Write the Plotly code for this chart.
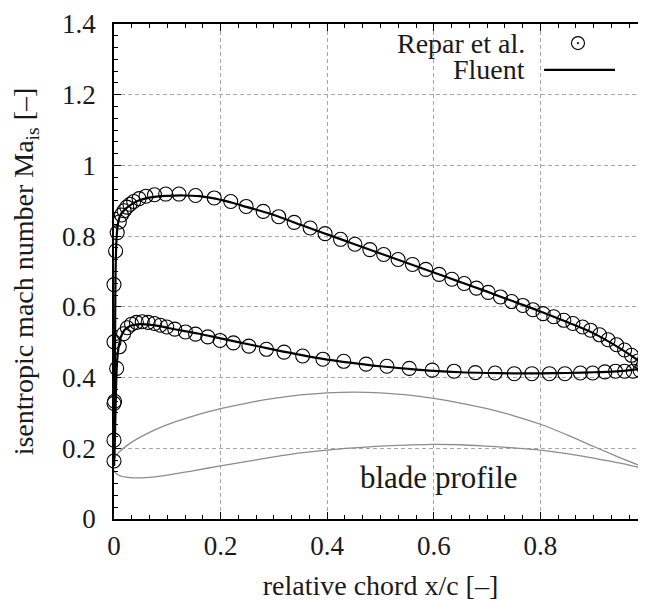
import plotly.graph_objects as go

# Repar et al. (experimental) - suction side
repar_ss_x = [0.0, 0.003, 0.006, 0.01, 0.014, 0.019, 0.024, 0.03, 0.037, 0.047, 0.06, 0.076, 0.097, 0.122,
              0.153, 0.188, 0.219, 0.248, 0.28, 0.309, 0.338, 0.368, 0.396, 0.425, 0.452, 0.48, 0.506, 0.533,
              0.56, 0.585, 0.61, 0.634, 0.657, 0.68, 0.702, 0.725, 0.746, 0.767, 0.786, 0.805, 0.825, 0.844,
              0.861, 0.879, 0.894, 0.911, 0.927, 0.943, 0.958, 0.971, 0.983, 0.992]
repar_ss_y = [0.663, 0.758, 0.81, 0.84, 0.86, 0.872, 0.882, 0.89, 0.898, 0.906, 0.913, 0.917, 0.919, 0.919,
              0.915, 0.908, 0.898, 0.884, 0.870, 0.855, 0.839, 0.823, 0.807, 0.791, 0.777, 0.762, 0.748, 0.734,
              0.720, 0.706, 0.692, 0.678, 0.666, 0.653, 0.641, 0.628, 0.615, 0.604, 0.592, 0.581, 0.572, 0.562,
              0.553, 0.543, 0.534, 0.521, 0.507, 0.493, 0.478, 0.463, 0.447, 0.432]

# Repar et al. - pressure side
repar_ps_x = [0.0, 0.0, 0.0, 0.001, 0.005, 0.0, 0.01, 0.018, 0.025, 0.033, 0.042, 0.053, 0.064, 0.076, 0.087,
              0.099, 0.114, 0.134, 0.153, 0.176, 0.199, 0.224, 0.253, 0.286, 0.319, 0.354, 0.392, 0.431, 0.473,
              0.512, 0.554, 0.597, 0.638, 0.678, 0.715, 0.751, 0.784, 0.817, 0.846, 0.875, 0.898, 0.921, 0.941,
              0.958, 0.974, 0.987]
repar_ps_y = [0.164, 0.223, 0.327, 0.333, 0.426, 0.501, 0.487, 0.524, 0.541, 0.551, 0.556, 0.558, 0.556, 0.553,
              0.548, 0.543, 0.537, 0.529, 0.523, 0.515, 0.505, 0.498, 0.489, 0.480, 0.472, 0.461, 0.452, 0.446,
              0.438, 0.432, 0.426, 0.421, 0.418, 0.414, 0.413, 0.411, 0.411, 0.411, 0.411, 0.413, 0.413, 0.416,
              0.418, 0.418, 0.418, 0.42]

# Fluent simulation - suction side
fluent_ss_x = [0.0, 0.001, 0.002, 0.003, 0.005, 0.008, 0.012, 0.02, 0.03, 0.045, 0.06, 0.08, 0.1, 0.13, 0.16,
               0.19, 0.22, 0.25, 0.3, 0.35, 0.4, 0.45, 0.5, 0.55, 0.6, 0.65, 0.7, 0.75, 0.8, 0.85, 0.9, 0.95,
               0.98, 1.0]
fluent_ss_y = [0.15, 0.3, 0.5, 0.7, 0.8, 0.84, 0.86, 0.875, 0.887, 0.9, 0.907, 0.912, 0.914, 0.915, 0.913,
               0.906, 0.895, 0.882, 0.86, 0.832, 0.805, 0.778, 0.751, 0.724, 0.697, 0.67, 0.643, 0.615, 0.587,
               0.557, 0.525, 0.482, 0.452, 0.428]

# Fluent simulation - pressure side
fluent_ps_x = [0.0, 0.002, 0.004, 0.006, 0.009, 0.013, 0.02, 0.03, 0.04, 0.05, 0.065, 0.08, 0.1, 0.13, 0.16,
               0.2, 0.25, 0.3, 0.35, 0.4, 0.45, 0.5, 0.55, 0.6, 0.65, 0.7, 0.75, 0.8, 0.85, 0.9, 0.95, 1.0]
fluent_ps_y = [0.15, 0.25, 0.38, 0.45, 0.49, 0.515, 0.535, 0.546, 0.55, 0.551, 0.55, 0.547, 0.541, 0.532,
               0.524, 0.511, 0.495, 0.479, 0.464, 0.451, 0.441, 0.432, 0.425, 0.419, 0.415, 0.413, 0.412,
               0.412, 0.413, 0.415, 0.418, 0.428]

# Blade profile (scaled geometry): upper surface and lower surface, leading edge -> trailing edge
profile_upper_x = [0.0, 0.01, 0.03, 0.06, 0.1, 0.15, 0.2, 0.25, 0.3, 0.35, 0.4, 0.45, 0.5, 0.55, 0.6, 0.65,
                   0.7, 0.75, 0.8, 0.85, 0.9, 0.95, 1.0]
profile_upper_y = [0.17, 0.19, 0.214, 0.24, 0.267, 0.292, 0.312, 0.328, 0.341, 0.351, 0.357, 0.359, 0.357,
                   0.351, 0.341, 0.328, 0.312, 0.292, 0.268, 0.238, 0.205, 0.173, 0.1415]
profile_lower_x = [0.0, 0.01, 0.03, 0.06, 0.1, 0.15, 0.2, 0.25, 0.3, 0.35, 0.4, 0.45, 0.5, 0.55, 0.6, 0.65,
                   0.7, 0.75, 0.8, 0.85, 0.9, 0.95, 1.0]
profile_lower_y = [0.136, 0.123, 0.117, 0.117, 0.124, 0.137, 0.15, 0.163, 0.176, 0.187, 0.195, 0.201, 0.206,
                   0.209, 0.211, 0.21, 0.206, 0.201, 0.195, 0.185, 0.172, 0.158, 0.1415]

x_ticks = [0, 0.2, 0.4, 0.6, 0.8, 1]
x_ticklabels = ["0", "0.2", "0.4", "0.6", "0.8", "1"]
y_ticks = [0, 0.2, 0.4, 0.6, 0.8, 1.0, 1.2, 1.4]
y_ticklabels = ["0", "0.2", "0.4", "0.6", "0.8", "1", "1.2", "1.4"]

FONT = "Liberation Serif"
TXT = "#1a1a1a"
FS = 28

fig = go.Figure()

# closed blade outline: upper surface TE->LE, then lower surface LE->TE
outline_x = profile_upper_x[::-1] + profile_lower_x
outline_y = profile_upper_y[::-1] + profile_lower_y
fig.add_trace(go.Scatter(x=outline_x, y=outline_y, mode="lines", line=dict(color="#8c8c8c", width=1.3),
                         line_shape="spline", line_smoothing=1.0, showlegend=False, hoverinfo="skip"))

for xs, ys in [(fluent_ss_x, fluent_ss_y), (fluent_ps_x, fluent_ps_y)]:
    fig.add_trace(go.Scatter(x=xs, y=ys, mode="lines", line=dict(color="black", width=2.2),
                             line_shape="spline", showlegend=False))

for xs, ys in [(repar_ss_x, repar_ss_y), (repar_ps_x, repar_ps_y)]:
    fig.add_trace(go.Scatter(x=xs, y=ys, mode="markers",
                             marker=dict(symbol="circle-open", size=14, color="black", line=dict(width=1.1)),
                             showlegend=False, cliponaxis=False))

axis_common = dict(
    showline=True, linecolor="black", linewidth=1.6, mirror="allticks",
    ticks="inside", ticklen=7, tickwidth=1.2, tickcolor="black",
    showgrid=True, gridcolor="#a8a8a8", gridwidth=1, griddash="4px,3px",
    zeroline=False, automargin=False,
    tickfont=dict(family=FONT, size=27, color=TXT),
)

fig.update_xaxes(range=[0, 1], tickvals=x_ticks, ticktext=x_ticklabels,
                 minor=dict(dtick=0.2 / 6, tick0=0, ticks="inside", ticklen=4, tickcolor="black",
                            tickwidth=1, showgrid=False),
                 title=dict(text="relative chord x/c [–]", font=dict(family=FONT, size=FS, color=TXT),
                            standoff=15),
                 ticklabelstandoff=2,
                 **axis_common)
fig.update_yaxes(range=[0, 1.4], tickvals=y_ticks, ticktext=y_ticklabels,
                 minor=dict(dtick=0.2 / 6, tick0=0, ticks="inside", ticklen=4, tickcolor="black",
                            tickwidth=1, showgrid=False),
                 title=dict(text="isentropic mach number Ma<sub>is</sub> [–]",
                            font=dict(family=FONT, size=FS, color=TXT), standoff=22),
                 ticklabelstandoff=11,
                 **axis_common)

# legend built from text + shapes (symbol on the right, like gnuplot)
fig.add_annotation(x=0.775, y=1.346, xref="x", yref="y", text="Repar et al.", showarrow=False,
                   xanchor="right", yanchor="middle", font=dict(family=FONT, size=FS, color=TXT))
fig.add_annotation(x=0.775, y=1.27, xref="x", yref="y", text="Fluent", showarrow=False,
                   xanchor="right", yanchor="middle", font=dict(family=FONT, size=FS, color=TXT))
fig.add_shape(type="circle", xref="x", yref="y", xsizemode="pixel", ysizemode="pixel",
              xanchor=0.8705, yanchor=1.346, x0=-6.5, x1=6.5, y0=-6.5, y1=6.5,
              line=dict(color="black", width=1.1))
fig.add_shape(type="circle", xref="x", yref="y", xsizemode="pixel", ysizemode="pixel",
              xanchor=0.8705, yanchor=1.346, x0=-0.9, x1=0.9, y0=-0.9, y1=0.9,
              line=dict(color="black", width=0.5), fillcolor="black")
fig.add_shape(type="line", xref="x", yref="y", x0=0.807, x1=0.94, y0=1.27, y1=1.27,
              line=dict(color="black", width=2.2))

fig.add_annotation(x=0.609, y=0.116, xref="x", yref="y", text="blade profile", showarrow=False,
                   xanchor="center", yanchor="middle", font=dict(family=FONT, size=31, color=TXT))

fig.update_layout(
    width=646, height=601,
    margin=dict(l=106, r=7, t=16, b=90),
    plot_bgcolor="white", paper_bgcolor="white",
    showlegend=False,
)

fig.write_html("out.html")
